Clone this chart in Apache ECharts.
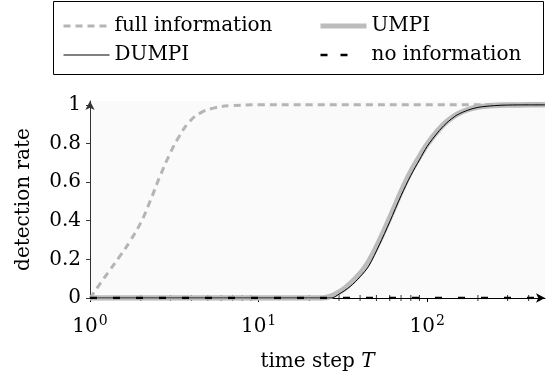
<!DOCTYPE html>
<html>
<head>
<meta charset="utf-8">
<script src="https://cdn.jsdelivr.net/npm/echarts@6/dist/echarts.min.js"></script>
<style>
html, body { margin: 0; background: #fff; }
#main { width: 553px; height: 377px; }
</style>
</head>
<body>
<div id="main"></div>
<script>
// time steps and detection rates
var fullT = [1, 1.3, 1.5, 1.73, 2, 2.27, 2.6, 3, 3.4, 3.9, 4.5, 5.4, 7, 10, 20, 500];
var fullRate = [0, 0.14, 0.215, 0.295, 0.39, 0.5, 0.63, 0.752, 0.84, 0.914, 0.957, 0.983, 0.996, 1, 1, 1];

var umpiT = [1, 24, 27, 30, 33, 38, 44, 52, 60, 70, 80, 90, 100, 115, 130, 150, 175, 200, 250, 300, 400, 500];
var umpiRate = [0, 0, 0.01, 0.03, 0.055, 0.105, 0.175, 0.295, 0.415, 0.55, 0.655, 0.732, 0.795, 0.864, 0.912, 0.951, 0.976, 0.989, 0.997, 0.999, 1, 1];

var dumpiT = [1, 27, 30, 35, 40, 45, 52, 60, 70, 80, 90, 100, 115, 130, 150, 175, 200, 250, 300, 400, 500];
var dumpiRate = [0, 0, 0.02, 0.06, 0.11, 0.165, 0.275, 0.395, 0.53, 0.635, 0.715, 0.785, 0.855, 0.905, 0.947, 0.973, 0.987, 0.996, 0.999, 1, 1];

var noInfoT = [1, 500];
var noInfoRate = [0, 0];

var minorTicks = [2, 3, 4, 5, 6, 7, 8, 9, 20, 30, 40, 50, 60, 70, 80, 90, 200, 300, 400];
var yTicks = [0, 0.2, 0.4, 0.6, 0.8, 1];

function pairs(xs, ys) {
  return xs.map(function (x, i) { return [x, ys[i]]; });
}

var FONT = 'DejaVu Serif';
var FS = 20;
var chart = echarts.init(document.getElementById('main'));

var fullStyle = { color: '#b5b5b5', width: 3, type: [7, 5] };
var umpiStyle = { color: '#bcbcbc', width: 5.5 };
var dumpiStyle = { color: '#000', width: 1 };
var noInfoStyle = { color: '#000', width: 2.5, type: [7, 16] };

var legendBase = {
  orient: 'vertical', top: 11, itemGap: 9,
  itemWidth: 46, itemHeight: 21,
  // hide the marker dot, keep the line sample
  itemStyle: { color: 'transparent', borderWidth: 0, opacity: 0 },
  textStyle: { fontFamily: FONT, fontSize: FS, color: '#000' }
};

chart.setOption({
  backgroundColor: '#fff',
  animation: false,
  textStyle: { fontFamily: FONT, color: '#000' },
  grid: {
    left: 90, right: 8, top: 101, bottom: 78,
    show: true, backgroundColor: '#fafafa', borderWidth: 0
  },
  graphic: [{
    type: 'rect',
    shape: { x: 53.5, y: 1.5, width: 490, height: 73 },
    style: { fill: 'none', stroke: '#000', lineWidth: 1 }
  }],
  legend: [
    Object.assign({}, legendBase, { left: 57, data: [
      { name: 'full information', lineStyle: { width: 3, type: [7, 5], color: '#b5b5b5' } },
      { name: 'DUMPI', lineStyle: { width: 1, color: '#000' } }
    ] }),
    Object.assign({}, legendBase, { left: 313, data: [
      { name: 'UMPI', lineStyle: { width: 5, color: '#bcbcbc' } },
      { name: 'no information', lineStyle: { width: 2.5, type: [7, 13, 7, 40], color: '#000' } }
    ] })
  ],
  xAxis: {
    type: 'log', logBase: 10, min: 1, max: 500,
    name: 'time step {i|T}',
    nameLocation: 'middle', nameGap: 54,
    nameTextStyle: {
      fontFamily: FONT, fontSize: FS, color: '#000',
      rich: { i: { fontFamily: FONT, fontStyle: 'italic', fontSize: FS } }
    },
    axisLine: { lineStyle: { color: '#000', width: 1 }, symbol: ['none', 'arrow'], symbolSize: [7, 9] },
    axisTick: { length: 4, lineStyle: { color: '#000' } },
    axisLabel: {
      showMaxLabel: false, margin: 16, color: '#000',
      formatter: function (v) {
        return '{b|10}{s|' + Math.round(Math.log10(v)) + '}';
      },
      rich: {
        b: { fontFamily: FONT, fontSize: FS, color: '#000' },
        s: { fontFamily: FONT, fontSize: 14, color: '#000', padding: [0, 0, 11, 1] }
      }
    },
    splitLine: { show: false },
    minorTick: { show: false }
  },
  yAxis: {
    type: 'value', min: 0, max: 1.02, interval: 0.2,
    name: 'detection rate',
    nameLocation: 'middle', nameGap: 56,
    nameTextStyle: { fontFamily: FONT, fontSize: FS, color: '#000' },
    axisLine: { show: true, lineStyle: { color: '#333', width: 1 }, symbol: ['none', 'arrow'], symbolSize: [7, 9] },
    axisTick: { show: true, length: 4, lineStyle: { color: '#333' } },
    axisLabel: {
      showMaxLabel: false, margin: 9, color: '#000', fontFamily: FONT, fontSize: FS,
      formatter: function (v) { return yTicks.indexOf(+v.toFixed(2)) >= 0 ? String(+v.toFixed(2)) : ''; }
    },
    splitLine: { show: false }
  },
  series: [{
    name: 'minor', type: 'scatter', silent: true,
    symbol: 'rect', symbolSize: [1, 6],
    itemStyle: { color: '#000' },
    data: minorTicks.map(function (t) { return [t, 0]; }),
    z: 1
  }, {
    name: 'full information', type: 'line', showSymbol: false, symbol: 'none', smooth: 0.5,
    lineStyle: fullStyle, itemStyle: { color: fullStyle.color },
    data: pairs(fullT, fullRate), z: 3
  }, {
    name: 'UMPI', type: 'line', showSymbol: false, symbol: 'none', smooth: 0.3,
    lineStyle: umpiStyle, itemStyle: { color: umpiStyle.color },
    data: pairs(umpiT, umpiRate), z: 2
  }, {
    name: 'DUMPI', type: 'line', showSymbol: false, symbol: 'none', smooth: 0.3,
    lineStyle: dumpiStyle, itemStyle: { color: '#000' },
    data: pairs(dumpiT, dumpiRate), z: 4
  }, {
    name: 'no information', type: 'line', showSymbol: false, symbol: 'none',
    lineStyle: noInfoStyle, itemStyle: { color: '#000' },
    data: pairs(noInfoT, noInfoRate), z: 5
  }]
});
</script>
</body>
</html>
